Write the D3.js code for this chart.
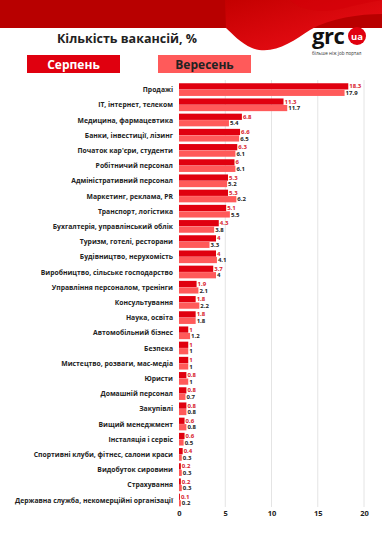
<!DOCTYPE html>
<html>
<head>
<meta charset="utf-8">
<script src="https://cdn.jsdelivr.net/npm/d3@7"></script>
<style>
  body { margin: 0; background: #fff; }
  svg { display: block; font-family: "Open Sans", "DejaVu Sans", sans-serif; }
</style>
</head>
<body>
<div id="chart"></div>
<script>
// chart data: vacancy share by sector, August vs September
const categories = [
  "Продажі", "IT, інтернет, телеком", "Медицина, фармацевтика", "Банки, інвестиції, лізинг",
  "Початок кар'єри, студенти", "Робітничий персонал", "Адміністративний персонал",
  "Маркетинг, реклама, PR", "Транспорт, логістика", "Бухгалтерія, управлінський облік",
  "Туризм, готелі, ресторани", "Будівництво, нерухомість", "Виробництво, сільське господарство",
  "Управління персоналом, тренінги", "Консультування", "Наука, освіта", "Автомобільний бізнес",
  "Безпека", "Мистецтво, розваги, мас-медіа", "Юристи", "Домашній персонал", "Закупівлі",
  "Вищий менеджмент", "Інсталяція і сервіс", "Спортивні клуби, фітнес, салони краси",
  "Видобуток сировини", "Страхування", "Державна служба, некомерційні організації"
];
const august = [18.3, 11.3, 6.8, 6.6, 6.3, 6, 5.3, 5.3, 5.1, 4.3, 4, 4, 3.7, 1.9, 1.8, 1.8, 1, 1, 1, 0.8, 0.8, 0.8, 0.6, 0.6, 0.4, 0.2, 0.2, 0.1];
const september = [17.9, 11.7, 5.4, 6.5, 6.1, 6.1, 5.2, 6.2, 5.5, 3.8, 3.3, 4.1, 4, 2.1, 2.2, 1.8, 1.2, 1, 1, 1, 0.7, 0.8, 0.8, 0.5, 0.3, 0.3, 0.3, 0.2];
const seriesNames = ["Серпень", "Вересень"];
const xTicks = [0, 5, 10, 15, 20];

const W = 382, H = 540;
const darkRed = "#e0000f", lightRed = "#ff5a5a";

const svg = d3.select("#chart").append("svg")
  .attr("width", W).attr("height", H);

// header band + wave
svg.append("rect").attr("x", 0).attr("y", 0).attr("width", W).attr("height", 28).attr("fill", "#b80000");
const grad = svg.append("defs").append("linearGradient").attr("id", "wave")
  .attr("x1", "0").attr("y1", "0").attr("x2", "1").attr("y2", "1");
grad.append("stop").attr("offset", "0").attr("stop-color", "#c40000");
grad.append("stop").attr("offset", "1").attr("stop-color", "#f0101a");
svg.append("path")
  .attr("d", "M225,0 L382,0 L382,14 C360,14 330,18 310,30 C292,42 272,56 252,48 C240,43 233,34 226,28 Z")
  .attr("fill", "url(#wave)");
svg.append("path")
  .attr("d", "M290,0 C300,10 320,14 345,8 C360,4 372,2 382,0 Z")
  .attr("fill", "#d40008").attr("opacity", 0.6);

// title
svg.append("text").attr("x", 127).attr("y", 43).attr("text-anchor", "middle")
  .attr("font-size", 12.5).attr("font-weight", 700).attr("fill", "#222")
  .text("Кількість вакансій, %");

// logo
svg.append("text").attr("x", 312).attr("y", 44).attr("font-size", 22).attr("font-weight", 700)
  .attr("fill", "#111").attr("letter-spacing", -0.5).text("grc");
svg.append("circle").attr("cx", 357).attr("cy", 36).attr("r", 9).attr("fill", darkRed);
svg.append("text").attr("x", 357).attr("y", 39.5).attr("text-anchor", "middle")
  .attr("font-size", 9.5).attr("font-weight", 700).attr("fill", "#fff").text("ua");
svg.append("text").attr("x", 312).attr("y", 55).attr("font-size", 4.6)
  .attr("fill", "#333").text("більше ніж job портал");

// legend buttons
const legend = svg.selectAll(".leg").data(seriesNames).enter().append("g")
  .attr("transform", (d, i) => `translate(${i === 0 ? 27 : 158},55)`);
legend.append("rect").attr("width", 93).attr("height", 18)
  .attr("fill", (d, i) => i === 0 ? darkRed : lightRed);
legend.append("text").attr("x", 46.5).attr("y", 13.5).attr("text-anchor", "middle")
  .attr("font-size", 12).attr("font-weight", 700)
  .attr("fill", (d, i) => i === 0 ? "#fff" : "#222").text(d => d);

// scales
const x = d3.scaleLinear().domain([0, 20]).range([179, 364]);
const y = d3.scaleBand().domain(categories).range([82, 507.6])
  .paddingInner(0.14).paddingOuter(0.07);
const ySub = d3.scaleBand().domain(seriesNames).range([0, y.bandwidth()]).padding(0.03);

// grid
svg.append("g").selectAll("line").data(xTicks.slice(1)).enter().append("line")
  .attr("x1", d => x(d)).attr("x2", d => x(d))
  .attr("y1", 80).attr("y2", 507)
  .attr("stroke", "#e4e4e4").attr("stroke-width", 1);

// x axis
const xAxis = svg.append("g").attr("transform", "translate(0,508)")
  .call(d3.axisBottom(x).tickValues(xTicks).tickSize(0).tickPadding(3));
xAxis.select(".domain").remove();
xAxis.selectAll("text").attr("font-size", 7.5).attr("font-weight", 700)
  .attr("fill", "#222").attr("font-family", "Open Sans, sans-serif");

// category labels
svg.append("g").selectAll("text").data(categories).enter().append("text")
  .attr("x", 173).attr("y", d => y(d) + y.bandwidth() / 2 + 2.5)
  .attr("text-anchor", "end").attr("font-size", 6.8).attr("font-weight", 700)
  .attr("fill", "#222").text(d => d);

// bars
const rows = categories.map((c, i) => ({ c, vals: [august[i], september[i]] }));
const g = svg.append("g").selectAll("g").data(rows).enter().append("g")
  .attr("transform", d => `translate(0,${y(d.c)})`);

g.selectAll("rect").data(d => d.vals.map((v, k) => ({ v, k }))).enter().append("rect")
  .attr("x", x(0))
  .attr("y", d => ySub(seriesNames[d.k]))
  .attr("width", d => x(d.v) - x(0))
  .attr("height", ySub.bandwidth())
  .attr("fill", d => d.k === 0 ? darkRed : lightRed);

g.selectAll("text").data(d => d.vals.map((v, k) => ({ v, k }))).enter().append("text")
  .attr("x", d => x(d.v) + 1)
  .attr("y", d => ySub(seriesNames[d.k]) + ySub.bandwidth() / 2 + 2.1)
  .attr("font-size", 6).attr("font-weight", 700)
  .attr("fill", d => d.k === 0 ? "#d8202a" : "#222")
  .text(d => d.v);
</script>
</body>
</html>
